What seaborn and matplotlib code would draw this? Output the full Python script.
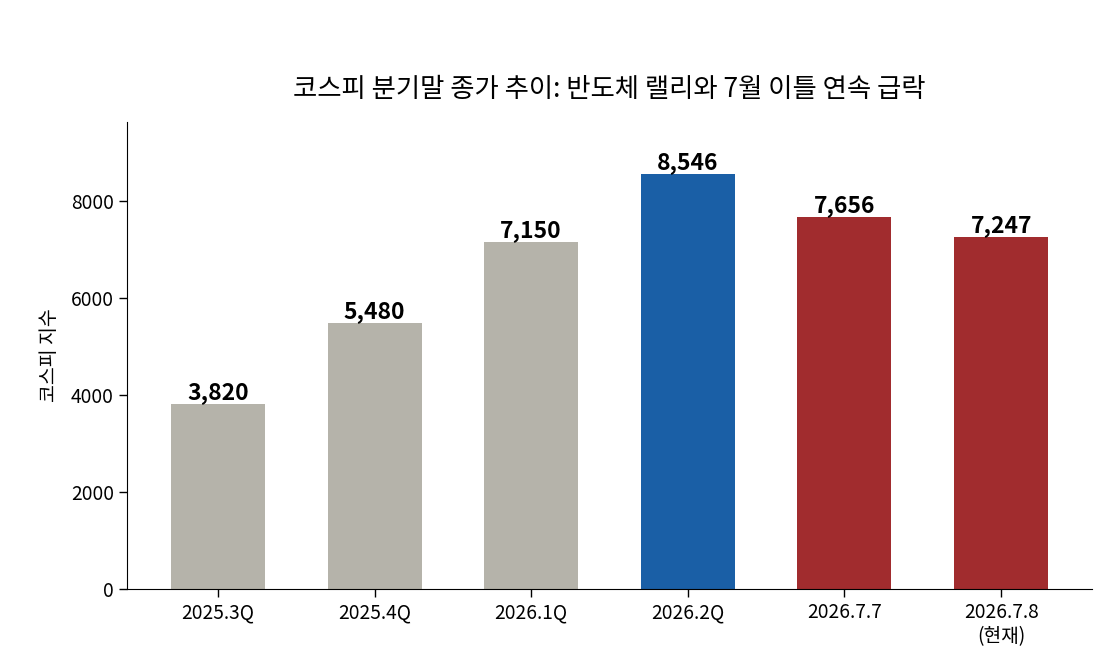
import pandas as pd
import seaborn as sns
import matplotlib.pyplot as plt

periods = ['2025.3Q', '2025.4Q', '2026.1Q', '2026.2Q', '2026.7.7', '2026.7.8\n(현재)']
kospi = [3820, 5480, 7150, 8546, 7656, 7247]
bar_colors = ['#b5b3aa', '#b5b3aa', '#b5b3aa', '#1a5fa6', '#a12c2e', '#a12c2e']

sns.set_style('white')
plt.rcParams['font.family'] = ['Noto Sans CJK KR', 'DejaVu Sans']
plt.rcParams['text.color'] = 'black'
plt.rcParams['axes.labelcolor'] = 'black'
plt.rcParams['xtick.color'] = 'black'
plt.rcParams['ytick.color'] = 'black'
plt.rcParams['axes.edgecolor'] = 'black'

df = pd.DataFrame({'period': periods, 'kospi': kospi})

fig = plt.figure(figsize=(11.1, 6.6), dpi=100)
ax = fig.add_axes([0.1144, 0.1076, 0.8694, 0.7074])

sns.barplot(data=df, x='period', y='kospi', hue='period', palette=bar_colors,
            legend=False, width=0.6, saturation=1, linewidth=0, ax=ax)

for container in ax.containers:
    ax.bar_label(container, labels=[f'{v:,.0f}' for v in container.datavalues],
                 fontsize=16.5, fontweight='bold', padding=0)

ax.set_ylim(0, 9620)
ax.set_xlim(-0.58, 5.58)
ax.set_xlabel('')
ax.set_ylabel('코스피 지수', fontsize=14, labelpad=8)
ax.set_title('코스피 분기말 종가 추이: 반도체 랠리와 7월 이틀 연속 급락', fontsize=19, pad=18)
ax.tick_params(axis='both', labelsize=13.8, length=6, width=1, left=True, bottom=True)
sns.despine(ax=ax)

fig.savefig('out.png', dpi=100)
plt.close(fig)
